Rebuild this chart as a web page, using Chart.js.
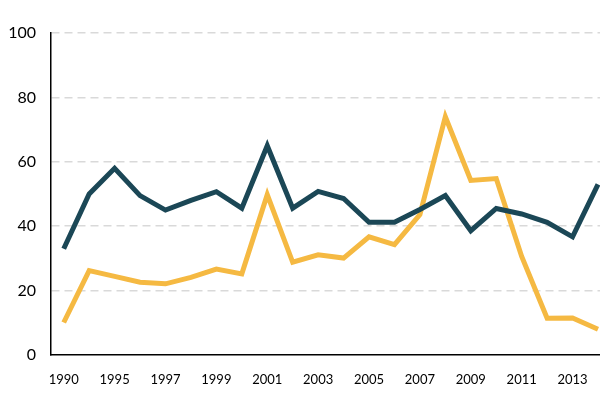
<!DOCTYPE html>
<html>
<head>
<meta charset="utf-8">
<script src="https://cdn.jsdelivr.net/npm/chart.js@4/dist/chart.umd.min.js"></script>
<style>
  html, body { margin: 0; padding: 0; background: #fff; overflow: hidden; }
  #wrap { position: relative; width: 615px; height: 393px; }
</style>
</head>
<body>
<div id="wrap"><canvas id="chart"></canvas></div>
<script>
// years on the x axis (only every other one gets a label)
var years = ['1990', '1994', '1995', '1996', '1997', '1998', '1999', '2000', '2001', '2002', '2003',
             '2004', '2005', '2006', '2007', '2008', '2009', '2010', '2011', '2012', '2013', '2014'];

var darkSeries = [33, 50, 58, 49.5, 45, 48, 50.7, 45.6, 65, 45.6, 50.8,
                  48.6, 41.2, 41.2, 45.2, 49.5, 38.6, 45.5, 43.8, 41.2, 36.7, 53];

var orangeSeries = [10.1, 26.2, 24.4, 22.6, 22.1, 24.1, 26.7, 25.2, 49.8, 28.8, 31.1,
                    30.1, 36.7, 34.3, 43.6, 74, 54.2, 54.8, 30.6, 11.4, 11.5, 8];

var yTicks = [0, 20, 40, 60, 80, 100];

var darkColor = '#1b4756';
var orangeColor = '#f5b942';

new Chart(document.getElementById('chart'), {
  type: 'line',
  data: {
    labels: years,
    datasets: [{
      data: darkSeries,
      borderColor: darkColor,
      borderWidth: 5,
      pointRadius: 0,
      tension: 0
    }, {
      data: orangeSeries,
      borderColor: orangeColor,
      borderWidth: 5,
      pointRadius: 0,
      tension: 0
    }]
  },
  options: {
    responsive: true,
    maintainAspectRatio: false,
    animation: false,
    layout: { padding: { top: 33, left: 0, right: 0, bottom: 0 } },
    plugins: {
      legend: { display: false },
      tooltip: { enabled: false }
    },
    scales: {
      x: {
        offset: true,
        grid: { display: false, drawTicks: false },
        border: { display: true, color: '#000', width: 1.5 },
        ticks: {
          autoSkip: false,
          maxRotation: 0,
          padding: 17,
          color: '#000',
          font: { family: 'Lato', size: 13 },
          callback: function (value, index) {
            return index % 2 === 0 ? years[index] : '';
          }
        },
        afterFit: function (scale) { scale.height = 38; }
      },
      y: {
        min: 0,
        max: 100,
        afterBuildTicks: function (scale) {
          scale.ticks = yTicks.map(function (v) { return { value: v }; });
        },
        grid: {
          drawTicks: false,
          lineWidth: 1.5,
          color: function (ctx) {
            return ctx.tick && ctx.tick.value === 0 ? 'rgba(0,0,0,0)' : '#d9d9d9';
          }
        },
        border: { display: true, color: '#000', width: 1.5, dash: [8, 5] },
        ticks: {
          padding: 15,
          color: '#000',
          font: { family: 'Lato', size: 16 }
        },
        afterFit: function (scale) { scale.width = 51; }
      }
    }
  }
});
</script>
</body>
</html>
